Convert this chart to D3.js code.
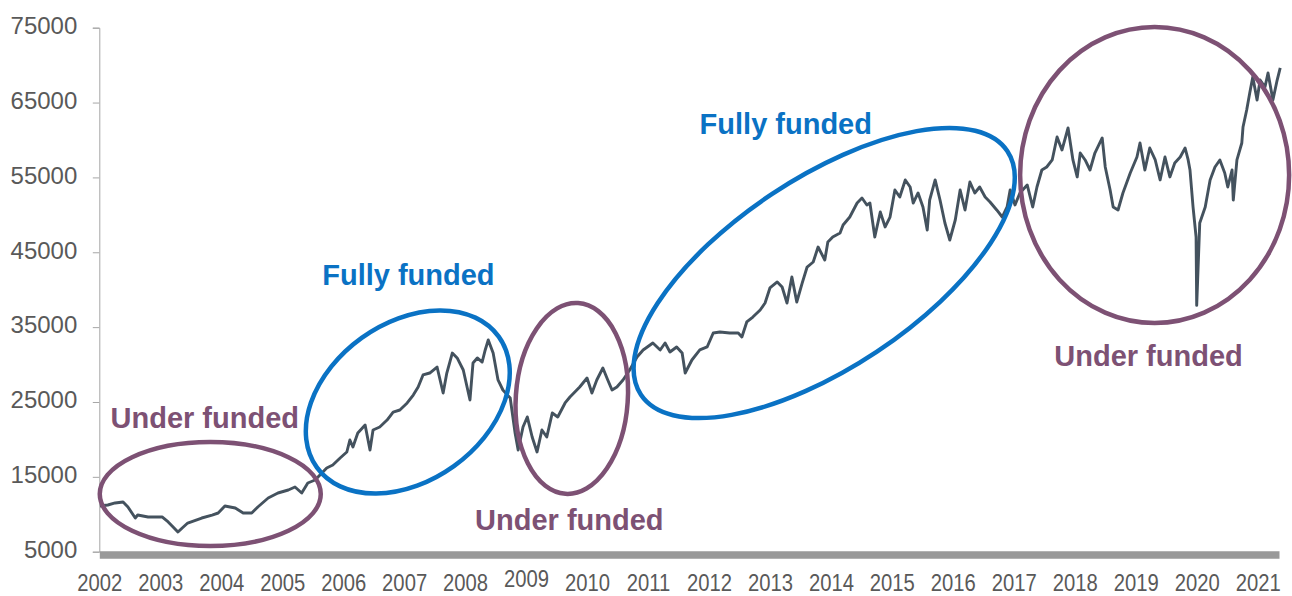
<!DOCTYPE html>
<html>
<head>
<meta charset="utf-8">
<script src="https://cdn.jsdelivr.net/npm/d3@7"></script>
<style>
  body { margin: 0; background: #fff; }
  svg { display: block; font-family: "Liberation Sans", Arial, sans-serif; }
</style>
</head>
<body>
<script>
// index level (decimal year, value)
var dates = [
  2002.01, 2002.14, 2002.26, 2002.39, 2002.47, 2002.59, 2002.63, 2002.80, 2003.03, 2003.13,
  2003.29, 2003.36, 2003.45, 2003.68, 2003.85, 2003.95, 2004.06, 2004.23, 2004.36, 2004.50,
  2004.60, 2004.77, 2004.93, 2005.10, 2005.21, 2005.32, 2005.42, 2005.54, 2005.73, 2005.83,
  2005.95, 2006.06, 2006.11, 2006.16, 2006.24, 2006.36, 2006.44, 2006.49, 2006.60, 2006.72,
  2006.82, 2006.93, 2007.05, 2007.15, 2007.23, 2007.31, 2007.42, 2007.54, 2007.64, 2007.70,
  2007.79, 2007.87, 2007.97, 2008.08, 2008.13, 2008.20, 2008.28, 2008.33, 2008.38, 2008.46,
  2008.54, 2008.62, 2008.74, 2008.82, 2008.87, 2008.95, 2009.02, 2009.10, 2009.18, 2009.26,
  2009.34, 2009.43, 2009.52, 2009.64, 2009.72, 2009.88, 2010.00, 2010.08, 2010.16, 2010.26,
  2010.34, 2010.41, 2010.49, 2010.59, 2010.70, 2010.82, 2010.92, 2011.08, 2011.20, 2011.28,
  2011.36, 2011.47, 2011.56, 2011.61, 2011.72, 2011.85, 2011.97, 2012.07, 2012.18, 2012.34,
  2012.48, 2012.54, 2012.62, 2012.72, 2012.84, 2012.92, 2013.00, 2013.12, 2013.20, 2013.28,
  2013.36, 2013.44, 2013.53, 2013.61, 2013.71, 2013.79, 2013.90, 2013.95, 2014.03, 2014.15,
  2014.20, 2014.31, 2014.43, 2014.51, 2014.59, 2014.64, 2014.72, 2014.81, 2014.89, 2014.97,
  2015.05, 2015.13, 2015.22, 2015.30, 2015.35, 2015.43, 2015.51, 2015.58, 2015.62, 2015.71,
  2015.79, 2015.87, 2015.95, 2016.04, 2016.12, 2016.20, 2016.28, 2016.36, 2016.44, 2016.53,
  2016.61, 2016.72, 2016.81, 2016.89, 2016.94, 2017.02, 2017.10, 2017.22, 2017.31, 2017.38,
  2017.46, 2017.54, 2017.63, 2017.71, 2017.79, 2017.89, 2017.97, 2018.04, 2018.09, 2018.17,
  2018.25, 2018.33, 2018.45, 2018.50, 2018.58, 2018.63, 2018.71, 2018.79, 2018.91, 2019.02,
  2019.07, 2019.15, 2019.23, 2019.32, 2019.40, 2019.48, 2019.56, 2019.64, 2019.73, 2019.81,
  2019.86, 2019.89, 2019.94, 2019.99, 2020.00, 2020.05, 2020.14, 2020.22, 2020.30, 2020.38,
  2020.46, 2020.51, 2020.58, 2020.60, 2020.66, 2020.74, 2020.76, 2020.82, 2020.87, 2020.92,
  2020.99, 2021.04, 2021.12, 2021.17, 2021.25, 2021.32, 2021.37
];
var values = [
  11100, 11240, 11510, 11640, 10970, 9500, 9900, 9640, 9640, 8970,
  7630, 8170, 8830, 9500, 9900, 10170, 11100, 10840, 10170, 10170,
  10970, 12170, 12840, 13240, 13640, 12840, 14180, 14580, 16180, 16580,
  17520, 18320, 19920, 18990, 20860, 21930, 18590, 21260, 21660, 22590,
  23660, 23930, 24870, 25930, 27000, 28610, 28870, 29670, 26200, 28870,
  31540, 30880, 29270, 25270, 30210, 30880, 30340, 31950, 33280, 31540,
  27940, 26600, 25530, 20860, 18590, 21660, 23000, 20320, 18320, 21260,
  20320, 23530, 23000, 24870, 25670, 27000, 28200, 26200, 27940, 29540,
  27940, 26600, 27000, 27940, 29270, 31010, 31950, 32880, 31950, 32880,
  31680, 32350, 31540, 28870, 30610, 31950, 32350, 34220, 34350, 34220,
  34220, 33680, 35690, 36350, 37290, 38220, 40230, 41030, 40360, 38220,
  41700, 38360, 40900, 43030, 43700, 45700, 43970, 46370, 47040, 47580,
  48640, 49710, 51580, 52250, 51320, 51580, 47040, 50380, 48380, 49710,
  53320, 52380, 54660, 53720, 51580, 52920, 51050, 47980, 51980, 54660,
  51980, 48910, 46640, 49310, 53320, 50650, 54390, 52920, 53720, 52380,
  51720, 50650, 49710, 51050, 53320, 51320, 52920, 53990, 51050, 53720,
  55990, 56390, 57330, 60400, 58660, 61600, 57330, 55060, 58260, 57330,
  55990, 58260, 60270, 56390, 53320, 51050, 50650, 52920, 55590, 57730,
  59600, 55990, 58930, 57330, 54660, 57730, 55060, 56930, 57730, 58930,
  57330, 55990, 51050, 47040, 37900, 48910, 51050, 54660, 56390, 57330,
  55590, 53720, 55990, 51980, 57330, 59600, 61740, 64010, 66280, 68420,
  65340, 68010, 67080, 68950, 65340, 68010, 69620
];
var yTicks = [5000, 15000, 25000, 35000, 45000, 55000, 65000, 75000];
var yearTicks = [2002, 2003, 2004, 2005, 2006, 2007, 2008, 2009, 2010, 2011,
                 2012, 2013, 2014, 2015, 2016, 2017, 2018, 2019, 2020, 2021];
var notes = ['Under funded', 'Fully funded', 'Under funded', 'Fully funded', 'Under funded'];

var w = 1292;
var h = 596;
var purple = '#7d5174';
var blue = '#0a72c4';

var svg = d3.select('body')
            .append('svg')
            .attr('width', w)
            .attr('height', h);

var x = d3.scaleLinear()
          .domain([2002, 2021.35])
          .range([99.3, 1279]);
var y = d3.scaleLinear()
          .domain([5000, 75000])
          .range([551.7, 27.7]);

// y axis
var yAxis = svg.append('g')
   .attr('transform', 'translate(99.3,0)')
   .call(d3.axisLeft(y)
           .tickValues(yTicks)
           .tickSize(6.5)
           .tickPadding(15.5)
           .tickFormat(d3.format('d')));
yAxis.attr('font-family', null).attr('font-size', 24);
yAxis.select('.domain').attr('stroke', '#a6a6a6');
yAxis.selectAll('.tick line').attr('stroke', '#a6a6a6');
yAxis.selectAll('.tick text').attr('fill', '#595959').attr('dy', '0.24em');

// the line
var line = d3.line()
             .x(function(i) { return x(dates[i]); })
             .y(function(i) { return y(values[i]); });

svg.append('path')
   .datum(d3.range(dates.length))
   .attr('d', line)
   .attr('fill', 'none')
   .attr('stroke', '#44525e')
   .attr('stroke-width', 2.9)
   .attr('stroke-linejoin', 'round');

// x axis: thick grey bar with year labels under it
var xAxis = svg.append('g')
   .attr('transform', 'translate(0,554.5)')
   .call(d3.axisBottom(x)
           .tickValues(yearTicks)
           .tickSize(0)
           .tickSizeOuter(0)
           .tickFormat(d3.format('d')));
xAxis.attr('font-family', null).attr('font-size', 23);
xAxis.select('.domain').attr('stroke', '#999999').attr('stroke-width', 7.5);
xAxis.selectAll('.tick text')
     .attr('fill', '#595959')
     .attr('dy', 0)
     .attr('y', function(d) { return d === 2009 ? 33 : 37; })
     .attr('transform', 'scale(0.88,1)');

// ellipses drawn over the periods
var rings = [
  {cx: 2003.82, cy: 12710, rx: 110.5, ry: 52, rot: 0, color: purple},
  {cx: 2007.06, cy: 25000, rx: 112, ry: 79, rot: -35.7, color: blue},
  {cx: 2009.75, cy: 25470, rx: 56, ry: 95.6, rot: 3.8, color: purple},
  {cx: 2013.89, cy: 42230, rx: 220, ry: 94.7, rot: -33.6, color: blue},
  {cx: 2019.31, cy: 55320, rx: 134.5, ry: 148, rot: 0, color: purple}
];

svg.selectAll('ellipse')
   .data(rings)
   .enter()
   .append('ellipse')
   .attr('transform', function(d) {
        return 'translate(' + x(d.cx) + ',' + y(d.cy) + ') rotate(' + d.rot + ')';
   })
   .attr('rx', function(d) { return d.rx; })
   .attr('ry', function(d) { return d.ry; })
   .attr('fill', 'none')
   .attr('stroke', function(d) { return d.color; })
   .attr('stroke-width', 4.5);

var notePos = [
  [2003.73, 21520, purple],
  [2007.07, 40630, blue],
  [2009.71, 7900, purple],
  [2013.26, 60800, blue],
  [2019.21, 29810, purple]
];

svg.selectAll('text.note')
   .data(notes)
   .enter()
   .append('text')
   .attr('class', 'note')
   .attr('x', function(d, i) { return x(notePos[i][0]); })
   .attr('y', function(d, i) { return y(notePos[i][1]); })
   .attr('text-anchor', 'middle')
   .attr('font-size', 29)
   .attr('font-weight', 'bold')
   .attr('fill', function(d, i) { return notePos[i][2]; })
   .text(function(d) { return d; });
</script>
</body>
</html>
